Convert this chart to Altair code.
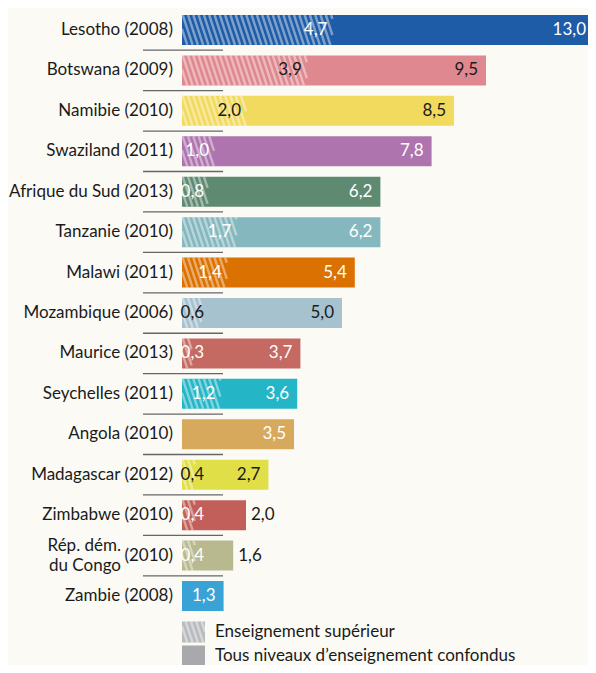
import altair as alt
import pandas as pd

# ---------------- data ----------------
countries = ["Lesotho (2008)", "Botswana (2009)", "Namibie (2010)", "Swaziland (2011)",
             "Afrique du Sud (2013)", "Tanzanie (2010)", "Malawi (2011)", "Mozambique (2006)",
             "Maurice (2013)", "Seychelles (2011)", "Angola (2010)", "Madagascar (2012)",
             "Zimbabwe (2010)", "(2010)", "Zambie (2008)"]
extra_label = {13: "Rép. dém.\ndu Congo"}
total = [13.0, 9.5, 8.5, 7.8, 6.2, 6.2, 5.4, 5.0, 3.7, 3.6, 3.5, 2.7, 2.0, 1.6, 1.3]
superieur = [4.7, 3.9, 2.0, 1.0, 0.8, 1.7, 1.4, 0.6, 0.3, 1.2, None, 0.4, 0.4, 0.4, None]
colors = ["#1f5ca8", "#df8890", "#f2da5e", "#ae74ae", "#5e8a72", "#85b8be", "#db7100",
          "#a7c2cf", "#c56a62", "#24b6c6", "#d6a95c", "#e1df48", "#c35f5a", "#b8b98f", "#3aa3d6"]
total_label_color = ["white", "#1a1a1a", "#1a1a1a", "white", "white", "white", "white", "#1a1a1a",
                     "white", "white", "white", "#1a1a1a", "#1a1a1a", "#1a1a1a", "white"]
sup_label_color = ["white", "#1a1a1a", "#1a1a1a", "white", "white", "white", "white", "#1a1a1a",
                   "white", "white", None, "#1a1a1a", "white", "white", None]
total_outside = [False] * 12 + [True, True, False]
legend_labels = ["Enseignement supérieur", "Tous niveaux d\u2019enseignement confondus"]
legend_colors = ["#b9babd", "#a8a9ac"]

# ---------------- layout ----------------
PX_PER_UNIT = 32.0
ROW_PX = 40.43
W, H = 406, 657
XMAX = W / PX_PER_UNIT
Y0 = -22.0 / ROW_PX
Y1 = Y0 + H / ROW_PX
BAR_HALF = 15.0 / ROW_PX
LEG_HALF = 10.5 / ROW_PX
FONT = "Lato"
FS = 17

xs = alt.Scale(domain=[0, XMAX], nice=False, zero=False)
ys = alt.Scale(domain=[Y0, Y1], nice=False, zero=False, reverse=True)


def fmt(v):
    return f"{v:.1f}".replace(".", ",")


def stripes(x_end, top, bottom, height_px):
    """diagonal hatch lines, clipped to [0, x_end]"""
    out = []
    spacing = 5.3 / PX_PER_UNIT
    dx = height_px * 0.33 / PX_PER_UNIT
    a = -dx
    while a < x_end:
        t0 = max(0.0, (0 - a) / dx)
        t1 = min(1.0, (x_end - a) / dx)
        if t1 > t0:
            out.append(dict(x=a + t0 * dx, x2=a + t1 * dx,
                            y=top + t0 * (bottom - top), y2=top + t1 * (bottom - top)))
        a += spacing
    return out


rows = []
stripe_rows = []
for i, c in enumerate(countries):
    s = superieur[i]
    rows.append(dict(
        row=i, label=c, total=total[i], start=0.0,
        top=i - BAR_HALF, bottom=i + BAR_HALF, color=colors[i],
        total_pos=min(total[i], XMAX + 6 / PX_PER_UNIT),
        total_txt=fmt(total[i]), tcol=total_label_color[i], outside=total_outside[i],
        sup=s, sup_pos=(max(s, 0.85) if s else None), sup_txt=(fmt(s) if s else None),
        scol=sup_label_color[i], sep=i + 0.5,
    ))
    if s:
        stripe_rows += stripes(s, i - BAR_HALF, i + BAR_HALF, 30)

df = pd.DataFrame(rows)
leg_rows = []
LEG_CENTERS = [(632 - 30) / ROW_PX, (656 - 30) / ROW_PX]
for k, lab in enumerate(legend_labels):
    cy = LEG_CENTERS[k]
    leg_rows.append(dict(label=lab, color=legend_colors[k], x=0.0, x2=23 / PX_PER_UNIT,
                         top=cy - LEG_HALF, bottom=cy + LEG_HALF, cy=cy, tx=33 / PX_PER_UNIT))
    if k == 0:
        stripe_rows += stripes(23 / PX_PER_UNIT, cy - LEG_HALF, cy + LEG_HALF, 21)
leg = pd.DataFrame(leg_rows)
st = pd.DataFrame(stripe_rows)

base = alt.Chart(df)

bars = base.mark_rect().encode(
    x=alt.X("start:Q", scale=xs, axis=None), x2="total:Q",
    y=alt.Y("top:Q", scale=ys, axis=None), y2="bottom:Q",
    color=alt.Color("color:N", scale=None),
)

hatch = alt.Chart(st).mark_rule(stroke="white", strokeOpacity=0.42, strokeWidth=2.4).encode(
    x=alt.X("x:Q", scale=xs, axis=None), x2="x2:Q",
    y=alt.Y("y:Q", scale=ys, axis=None), y2="y2:Q",
)

sup_text = base.transform_filter("datum.sup != null").mark_text(
    align="right", baseline="middle", dx=-5, font=FONT, fontSize=FS).encode(
    x=alt.X("sup_pos:Q", scale=xs, axis=None),
    y=alt.Y("row:Q", scale=ys, axis=None),
    text="sup_txt:N", color=alt.Color("scol:N", scale=None),
)

tot_in = base.transform_filter("!datum.outside").mark_text(
    align="right", baseline="middle", dx=-8, font=FONT, fontSize=FS).encode(
    x=alt.X("total_pos:Q", scale=xs, axis=None),
    y=alt.Y("row:Q", scale=ys, axis=None),
    text="total_txt:N", color=alt.Color("tcol:N", scale=None),
)

tot_out = base.transform_filter("datum.outside").mark_text(
    align="left", baseline="middle", dx=5, font=FONT, fontSize=FS).encode(
    x=alt.X("total:Q", scale=xs, axis=None),
    y=alt.Y("row:Q", scale=ys, axis=None),
    text="total_txt:N", color=alt.Color("tcol:N", scale=None),
)

names = base.mark_text(align="right", baseline="middle", font=FONT, fontSize=FS,
                       color="#1a1a1a").encode(
    x=alt.value(-9), y=alt.Y("row:Q", scale=ys, axis=None), text="label:N",
)

extra = alt.Chart(pd.DataFrame([dict(row=k, label=v) for k, v in extra_label.items()])).mark_text(
    align="right", baseline="middle", font=FONT, fontSize=FS, color="#1a1a1a",
    lineBreak="\n", lineHeight=20, dy=-10).encode(
    x=alt.value(-61), y=alt.Y("row:Q", scale=ys, axis=None), text="label:N",
)

seps = base.transform_filter(f"datum.row < {len(countries) - 1}").mark_rule(
    color="#666666", strokeWidth=1.3).encode(
    x=alt.value(-39), x2=alt.value(41), y=alt.Y("sep:Q", scale=ys, axis=None),
)

leg_sw = alt.Chart(leg).mark_rect().encode(
    x=alt.X("x:Q", scale=xs, axis=None), x2="x2:Q",
    y=alt.Y("top:Q", scale=ys, axis=None), y2="bottom:Q",
    color=alt.Color("color:N", scale=None),
)
leg_tx = alt.Chart(leg).mark_text(align="left", baseline="middle", font=FONT, fontSize=FS,
                                  color="#1a1a1a").encode(
    x=alt.X("tx:Q", scale=xs, axis=None), y=alt.Y("cy:Q", scale=ys, axis=None), text="label:N",
)

chart = alt.layer(bars, leg_sw, hatch, sup_text, tot_in, tot_out, names, extra, seps, leg_tx).properties(
    width=W, height=H,
    autosize=alt.AutoSizeParams(type="none"),
    padding={"left": 174, "top": 0, "right": 0, "bottom": 0},
    background="#fbfaf5",
).configure_view(stroke=None)

chart.save("out.html", embed_options={"renderer": "svg", "actions": False})
